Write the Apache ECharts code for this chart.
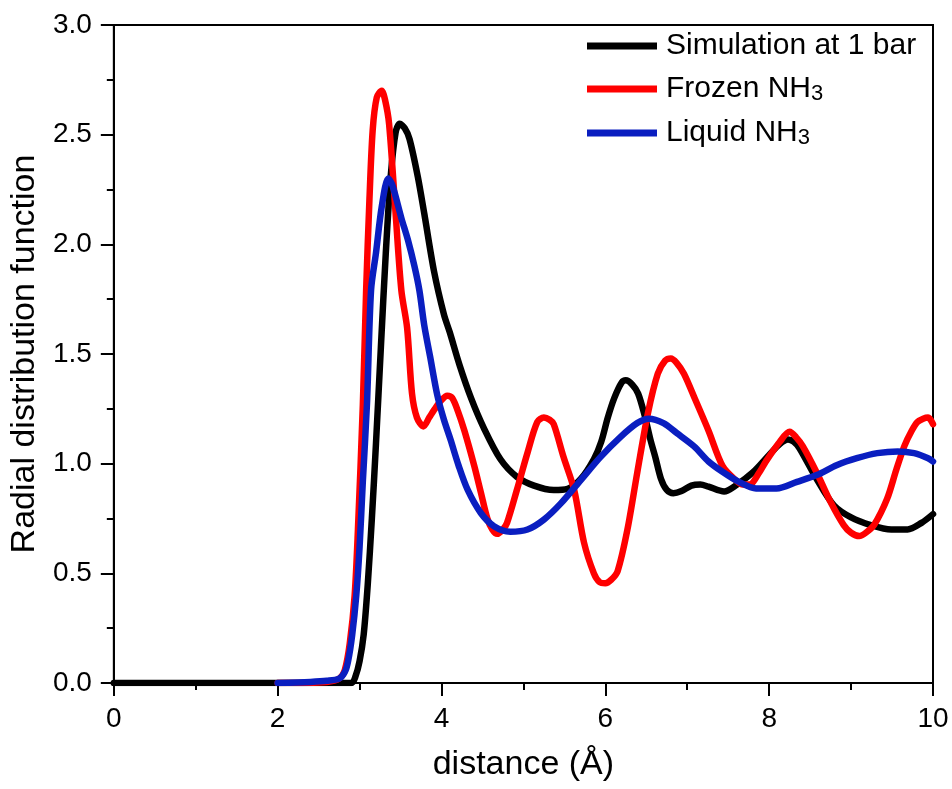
<!DOCTYPE html>
<html>
<head>
<meta charset="utf-8">
<script src="https://cdn.jsdelivr.net/npm/echarts@6/dist/echarts.min.js"></script>
<style>
  html, body { margin: 0; padding: 0; background: #fff; }
  #chart { width: 952px; height: 789px; }
</style>
</head>
<body>
<div id="chart"></div>
<script>
// N–N radial distribution functions of ammonia, g(r) against distance r (Å)
const seriesNames = ['Simulation at 1 bar', 'Frozen NH3', 'Liquid NH3'];
const xTicks = [0, 2, 4, 6, 8, 10];
const yTicks = [0.0, 0.5, 1.0, 1.5, 2.0, 2.5, 3.0];

const simDist = [0, 2.9, 2.95, 3.0, 3.05, 3.1, 3.15, 3.2, 3.26, 3.32, 3.38, 3.44, 3.49, 3.55, 3.61, 3.71, 3.79, 3.91, 4.03, 4.1, 4.22, 4.36, 4.52, 4.72, 4.92, 5.13, 5.37, 5.54, 5.7, 5.86, 5.95, 6.03, 6.11, 6.2, 6.25, 6.33, 6.4, 6.48, 6.55, 6.61, 6.68, 6.75, 6.83, 6.93, 7.05, 7.16, 7.26, 7.45, 7.59, 7.8, 8.0, 8.13, 8.23, 8.3, 8.37, 8.58, 8.79, 9.0, 9.24, 9.49, 9.69, 9.86, 10.0];
const simG    = [0, 0.0, 0.03, 0.1, 0.22, 0.45, 0.75, 1.09, 1.53, 1.96, 2.31, 2.51, 2.55, 2.53, 2.48, 2.31, 2.14, 1.875, 1.68, 1.6, 1.45, 1.3, 1.16, 1.02, 0.94, 0.9, 0.88, 0.885, 0.93, 1.02, 1.1, 1.21, 1.3, 1.37, 1.38, 1.36, 1.32, 1.22, 1.11, 1.03, 0.93, 0.88, 0.865, 0.875, 0.9, 0.905, 0.895, 0.873, 0.9, 0.96, 1.04, 1.09, 1.11, 1.1, 1.07, 0.93, 0.81, 0.755, 0.72, 0.7, 0.7, 0.73, 0.77];

const frozenDist = [2.0, 2.6, 2.75, 2.82, 2.88, 2.94, 2.98, 3.04, 3.08, 3.12, 3.16, 3.21, 3.27, 3.31, 3.36, 3.44, 3.51, 3.58, 3.64, 3.7, 3.78, 3.85, 3.91, 4.0, 4.07, 4.13, 4.2, 4.28, 4.4, 4.48, 4.56, 4.62, 4.68, 4.75, 4.8, 4.92, 5.05, 5.17, 5.25, 5.32, 5.37, 5.49, 5.62, 5.74, 5.86, 5.93, 6.0, 6.07, 6.15, 6.27, 6.39, 6.52, 6.64, 6.73, 6.8, 6.87, 6.96, 7.1, 7.26, 7.43, 7.59, 7.68, 7.76, 7.88, 7.96, 8.13, 8.25, 8.33, 8.41, 8.58, 8.75, 8.91, 9.0, 9.1, 9.18, 9.28, 9.44, 9.55, 9.65, 9.74, 9.81, 9.88, 9.94, 10.0];
const frozenG    = [0, 0.005, 0.02, 0.06, 0.18, 0.4, 0.7, 1.27, 1.79, 2.2, 2.52, 2.67, 2.7, 2.66, 2.55, 2.14, 1.79, 1.62, 1.32, 1.21, 1.17, 1.21, 1.245, 1.29, 1.31, 1.3, 1.24, 1.15, 0.99, 0.87, 0.75, 0.7, 0.68, 0.7, 0.73, 0.88, 1.05, 1.19, 1.21, 1.2, 1.18, 1.03, 0.88, 0.64, 0.5, 0.46, 0.455, 0.47, 0.51, 0.7, 0.96, 1.23, 1.41, 1.47, 1.48, 1.46, 1.41, 1.29, 1.15, 0.99, 0.925, 0.905, 0.905, 0.96, 1.01, 1.1, 1.145, 1.12, 1.08, 0.96, 0.825, 0.72, 0.685, 0.67, 0.685, 0.72, 0.84, 0.97, 1.08, 1.15, 1.19, 1.205, 1.21, 1.18];

const liquidDist = [2.0, 2.4, 2.6, 2.75, 2.82, 2.86, 2.91, 2.96, 3.0, 3.04, 3.09, 3.14, 3.2, 3.27, 3.35, 3.4, 3.51, 3.59, 3.67, 3.73, 3.79, 3.86, 3.95, 4.03, 4.11, 4.21, 4.32, 4.48, 4.64, 4.84, 5.05, 5.25, 5.46, 5.7, 5.94, 6.18, 6.39, 6.53, 6.71, 6.87, 7.08, 7.26, 7.43, 7.63, 7.84, 8.09, 8.34, 8.58, 8.83, 9.07, 9.32, 9.57, 9.77, 9.94, 10.0];
const liquidG    = [0, 0.005, 0.01, 0.02, 0.05, 0.1, 0.22, 0.4, 0.62, 0.92, 1.27, 1.79, 1.96, 2.17, 2.3, 2.27, 2.12, 2.02, 1.9, 1.79, 1.63, 1.49, 1.31, 1.2, 1.11, 0.99, 0.88, 0.775, 0.715, 0.69, 0.7, 0.745, 0.82, 0.925, 1.03, 1.12, 1.185, 1.205, 1.185, 1.14, 1.08, 1.01, 0.963, 0.917, 0.887, 0.887, 0.917, 0.948, 0.994, 1.025, 1.048, 1.056, 1.048, 1.025, 1.01];

const colors = ['#000000', '#ff0000', '#0a1ec0'];
const FONT = "'Liberation Sans', Arial, sans-serif";

const pairs = (xs, ys) => xs.map((x, i) => [x, ys[i]]);
const curves = [pairs(simDist, simG), pairs(frozenDist, frozenG), pairs(liquidDist, liquidG)];

const chart = echarts.init(document.getElementById('chart'), null, { renderer: 'canvas' });

const axisCommon = {
  type: 'value',
  axisLine: { show: true, lineStyle: { color: '#000', width: 2 } },
  axisTick: { show: true, inside: false, length: 13, lineStyle: { color: '#000', width: 2 } },
  minorTick: { show: true, splitNumber: 2, length: 7, lineStyle: { color: '#000', width: 2 } },
  splitLine: { show: false },
  minorSplitLine: { show: false },
  nameLocation: 'middle',
  nameTextStyle: { fontFamily: FONT, fontSize: 34, color: '#000' }
};

chart.setOption({
  animation: false,
  backgroundColor: '#fff',
  grid: {
    left: 112, right: 19, top: 25, bottom: 106,
    show: true, borderColor: '#000', borderWidth: 2
  },
  xAxis: Object.assign({}, axisCommon, {
    min: xTicks[0], max: xTicks[xTicks.length - 1], interval: xTicks[1] - xTicks[0],
    name: 'distance (Å)', nameGap: 65,
    axisLabel: { fontFamily: FONT, fontSize: 28, color: '#000', margin: 22 }
  }),
  yAxis: Object.assign({}, axisCommon, {
    min: yTicks[0], max: yTicks[yTicks.length - 1], interval: yTicks[1] - yTicks[0],
    name: 'Radial distribution function', nameGap: 62,
    axisLabel: { fontFamily: FONT, fontSize: 28, color: '#000', margin: 22,
                 formatter: v => v.toFixed(1) }
  }),
  legend: {
    orient: 'vertical',
    left: 582, top: 26,
    itemWidth: 70, itemHeight: 7, itemGap: 13,
    icon: 'rect',
    data: seriesNames,
    formatter: name => name.endsWith('NH3') ? '{m|' + name.slice(0, -1) + '}{s|3}' : '{m|' + name + '}',
    textStyle: {
      fontFamily: FONT, fontSize: 30, color: '#000', padding: [0, 0, 0, 4],
      rich: {
        m: { fontFamily: FONT, fontSize: 30, color: '#000', lineHeight: 32 },
        s: { fontFamily: FONT, fontSize: 22, color: '#000', lineHeight: 6, verticalAlign: 'bottom' }
      }
    }
  },
  series: seriesNames.map((name, i) => ({
    name: name,
    type: 'line',
    data: curves[i],
    showSymbol: false,
    smooth: 0.3,
    color: colors[i],
    lineStyle: { color: colors[i], width: 6.5, join: 'round', cap: 'round' },
    z: 2 + i
  }))
});
</script>
</body>
</html>
